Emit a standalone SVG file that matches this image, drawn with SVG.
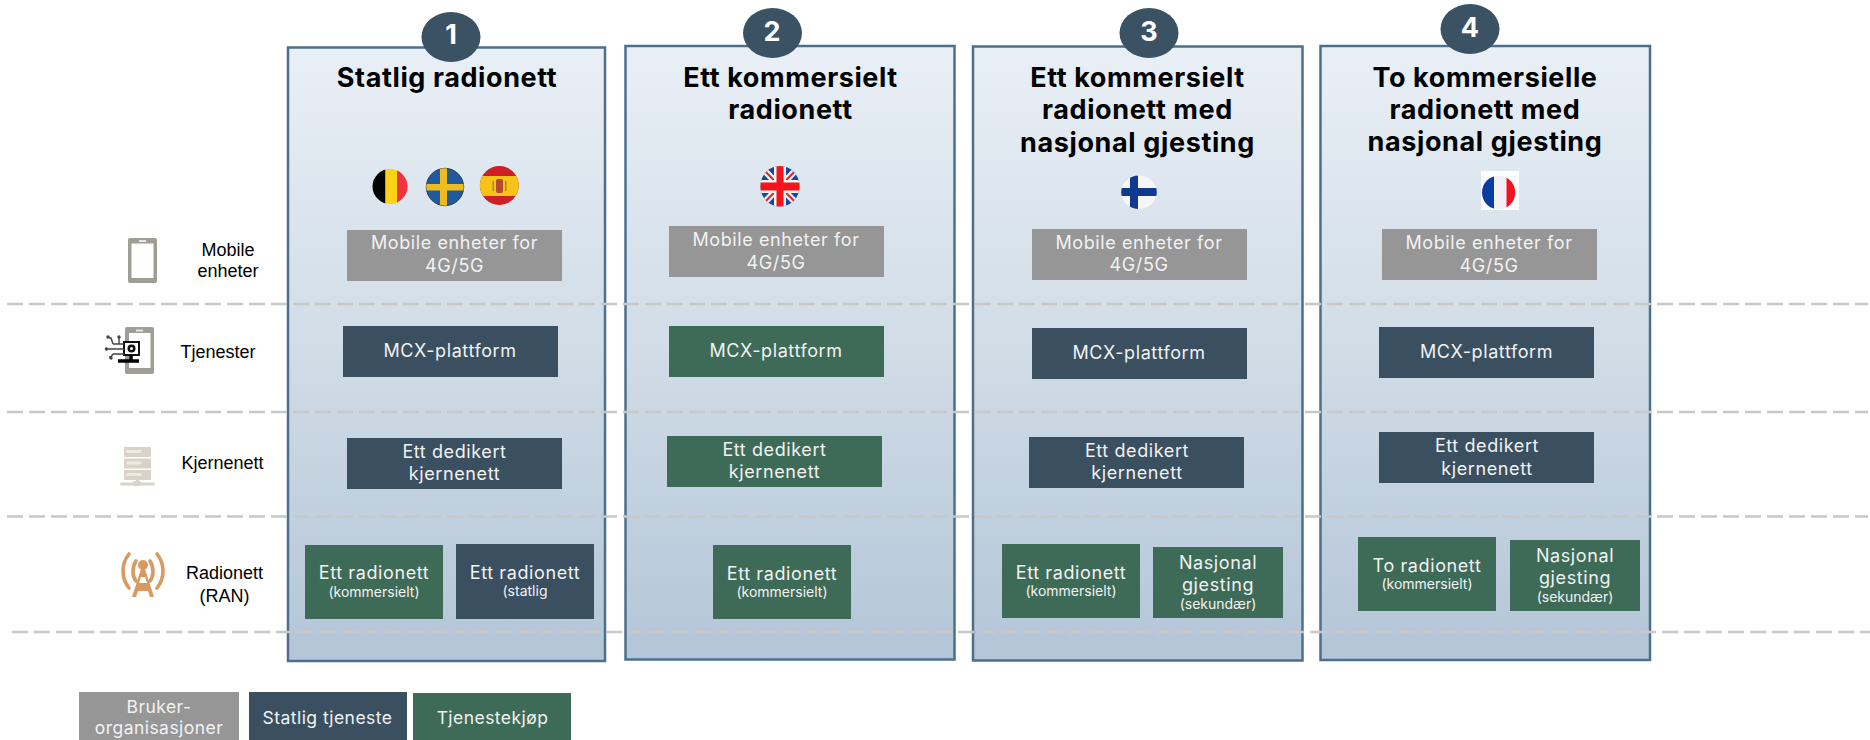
<svg xmlns="http://www.w3.org/2000/svg" width="1870" height="740" viewBox="0 0 1870 740">
<style>
text{font-family:"Inter","Noto Sans",sans-serif;text-anchor:middle}
.col{fill:url(#colGrad);stroke:#4c708c;stroke-width:2.5}
.badge{fill:#3a5263}
.num{font-size:27px;font-weight:700;fill:#fff}
.title{font-size:27px;font-weight:700;fill:#000;letter-spacing:.6px}
.b{font-size:18px;fill:#f2f2f2;letter-spacing:.6px}
.l{font-size:17.5px;fill:#f2f2f2;letter-spacing:.45px}
.s{font-size:14px;letter-spacing:0;fill:#f2f2f2}
.grey{fill:#969696}
.navy{fill:#3a4f60}
.green{fill:#3e6b57}
.side{font-family:"Liberation Sans",Arial,sans-serif;font-size:18px;fill:#000}
.divider{stroke:#c8c8c8;stroke-width:2.5;stroke-dasharray:16 6;fill:none}
</style>
<defs>
<linearGradient id="colGrad" x1="0" y1="0" x2="0" y2="1"><stop offset="0" stop-color="#e9eff6"/><stop offset="0.5" stop-color="#d0dce6"/><stop offset="1" stop-color="#b3c5d8"/></linearGradient>
<clipPath id="cBE"><circle cx="390" cy="186.5" r="17.5"/></clipPath>
<clipPath id="cUK"><ellipse cx="780" cy="186.3" rx="19.6" ry="20.3"/></clipPath>
<clipPath id="cFI"><ellipse cx="1139" cy="192.3" rx="17.8" ry="16.8"/></clipPath>
<clipPath id="cFR"><ellipse cx="1498.6" cy="192.5" rx="16.6" ry="16.8"/></clipPath>
<clipPath id="cSE"><circle cx="445" cy="187" r="18.7"/></clipPath>
<clipPath id="cES"><circle cx="499.3" cy="185.5" r="19.4"/></clipPath>
</defs>

<g id="column-1"><rect class="col" x="288" y="47.5" width="317" height="613.5"/></g>
<g id="column-2"><rect class="col" x="625.5" y="46" width="329" height="613.5"/></g>
<g id="column-3"><rect class="col" x="973" y="46.5" width="329.5" height="614"/></g>
<g id="column-4"><rect class="col" x="1320.5" y="46" width="329.5" height="614"/></g>

<g id="connectors">
<line class="divider" x1="7" y1="304" x2="1868" y2="304"/>
<line class="divider" x1="7" y1="412" x2="1868" y2="412"/>
<line class="divider" x1="7" y1="516.5" x2="1868" y2="516.5"/>
<line class="divider" x1="12" y1="632" x2="1870" y2="632"/>
</g>

<g id="heading-1"><ellipse class="badge" cx="451" cy="37" rx="29.5" ry="25"/><text class="num" x="451" y="44">1</text><text class="title" x="447" y="87">Statlig radionett</text></g>
<g id="heading-2"><ellipse class="badge" cx="772.5" cy="33" rx="29.5" ry="25"/><text class="num" x="772" y="41">2</text><text class="title"><tspan x="790.5" y="87">Ett kommersielt</tspan><tspan x="790.5" y="118.5">radionett</tspan></text></g>
<g id="heading-3"><ellipse class="badge" cx="1149" cy="33" rx="29.5" ry="25"/><text class="num" x="1149" y="41">3</text><text class="title"><tspan x="1137.5" y="87">Ett kommersielt</tspan><tspan x="1137.5" y="119">radionett med</tspan><tspan x="1137.5" y="151.5">nasjonal gjesting</tspan></text></g>
<g id="heading-4"><ellipse class="badge" cx="1470" cy="29" rx="29.5" ry="25"/><text class="num" x="1470" y="37">4</text><text class="title"><tspan x="1485" y="87">To kommersielle</tspan><tspan x="1485" y="119">radionett med</tspan><tspan x="1485" y="151">nasjonal gjesting</tspan></text></g>

<g id="flag-belgium" clip-path="url(#cBE)"><rect x="372" y="169" width="13.5" height="36" fill="#050505"/><rect x="385.5" y="169" width="11.5" height="36" fill="#fcd116"/><rect x="397" y="169" width="12" height="36" fill="#ef3340"/></g>
<g id="flag-sweden"><circle cx="445" cy="187" r="18.7" fill="#1f5a9e" stroke="#2d3f52" stroke-width="1"/><g clip-path="url(#cSE)"><rect x="440" y="168" width="7" height="38" fill="#eebc1f"/><rect x="426" y="184" width="38" height="6.5" fill="#eebc1f"/></g></g>
<g id="flag-spain" clip-path="url(#cES)"><rect x="479" y="165" width="41" height="41" fill="#cf1f26"/><rect x="479" y="176" width="41" height="20" fill="#f7c318"/><rect x="496" y="179" width="7" height="14" rx="2" fill="#b5482f"/><rect x="492.5" y="181" width="1.5" height="10" fill="#a08a3a"/><rect x="505" y="181" width="1.5" height="10" fill="#a08a3a"/></g>
<g id="flag-uk" clip-path="url(#cUK)"><rect x="760" y="165" width="41" height="43" fill="#1446a8"/><path d="M762 168 798 205M798 168 762 205" stroke="#f4f4f4" stroke-width="6.5"/><path d="M762 168 798 205M798 168 762 205" stroke="#e8202a" stroke-width="2"/><rect x="774" y="165" width="12" height="43" fill="#f4f4f4"/><rect x="760" y="180" width="41" height="13" fill="#f4f4f4"/><rect x="776.5" y="165" width="7" height="43" fill="#f5141e"/><rect x="760" y="182.5" width="41" height="8" fill="#f5141e"/></g>
<g id="flag-finland" clip-path="url(#cFI)"><rect x="1120" y="175" width="38" height="35" fill="#f4f6f8"/><rect x="1130" y="175" width="8" height="35" fill="#113a8c"/><rect x="1120" y="188" width="38" height="8" fill="#113a8c"/></g>
<g id="flag-france"><rect x="1481" y="171" width="38" height="39" fill="#fff"/><g clip-path="url(#cFR)"><rect x="1481" y="175" width="13" height="35" fill="#0a3da3"/><rect x="1494" y="175" width="12.5" height="35" fill="#eef0f3"/><rect x="1506.5" y="175" width="10" height="35" fill="#f4101c"/></g></g>

<g id="mobile-1"><rect class="grey" x="347" y="230" width="215" height="51"/><text class="b"><tspan x="454.5" y="249">Mobile enheter for</tspan><tspan x="454.5" y="272">4G/5G</tspan></text></g>
<g id="mobile-2"><rect class="grey" x="669" y="226" width="215" height="51"/><text class="b"><tspan x="776" y="245.5">Mobile enheter for</tspan><tspan x="776" y="268.5">4G/5G</tspan></text></g>
<g id="mobile-3"><rect class="grey" x="1032" y="229" width="215" height="51"/><text class="b"><tspan x="1139" y="249">Mobile enheter for</tspan><tspan x="1139" y="271">4G/5G</tspan></text></g>
<g id="mobile-4"><rect class="grey" x="1382" y="229" width="215" height="51"/><text class="b"><tspan x="1489" y="249">Mobile enheter for</tspan><tspan x="1489" y="271.5">4G/5G</tspan></text></g>

<g id="mcx-1"><rect class="navy" x="343" y="326" width="215" height="51"/><text class="b" x="450" y="357">MCX-plattform</text></g>
<g id="mcx-2"><rect class="green" x="669" y="326" width="215" height="51"/><text class="b" x="776" y="357">MCX-plattform</text></g>
<g id="mcx-3"><rect class="navy" x="1032" y="328" width="215" height="51"/><text class="b" x="1139" y="359">MCX-plattform</text></g>
<g id="mcx-4"><rect class="navy" x="1379" y="327" width="215" height="51"/><text class="b" x="1486.5" y="358">MCX-plattform</text></g>

<g id="core-1"><rect class="navy" x="347" y="438" width="215" height="51"/><text class="b"><tspan x="454.5" y="458">Ett dedikert</tspan><tspan x="454.5" y="480">kjernenett</tspan></text></g>
<g id="core-2"><rect class="green" x="667" y="436" width="215" height="51"/><text class="b"><tspan x="774.5" y="456">Ett dedikert</tspan><tspan x="774.5" y="478">kjernenett</tspan></text></g>
<g id="core-3"><rect class="navy" x="1029" y="437" width="215" height="51"/><text class="b"><tspan x="1137" y="457">Ett dedikert</tspan><tspan x="1137" y="479">kjernenett</tspan></text></g>
<g id="core-4"><rect class="navy" x="1379" y="432" width="215" height="51"/><text class="b"><tspan x="1487" y="452">Ett dedikert</tspan><tspan x="1487" y="474.5">kjernenett</tspan></text></g>

<g id="ran-1a"><rect class="green" x="305" y="545" width="138" height="74"/><text class="b"><tspan x="374" y="579">Ett radionett</tspan><tspan class="s" x="374" y="597">(kommersielt)</tspan></text></g>
<g id="ran-1b"><rect class="navy" x="456" y="544" width="138" height="75"/><text class="b"><tspan x="525" y="579">Ett radionett</tspan><tspan class="s" x="525" y="596">(statlig</tspan></text></g>
<g id="ran-2"><rect class="green" x="713" y="545" width="138" height="74"/><text class="b"><tspan x="782" y="580">Ett radionett</tspan><tspan class="s" x="782" y="597">(kommersielt)</tspan></text></g>
<g id="ran-3a"><rect class="green" x="1002" y="544" width="138" height="74"/><text class="b"><tspan x="1071" y="579">Ett radionett</tspan><tspan class="s" x="1071" y="596">(kommersielt)</tspan></text></g>
<g id="ran-3b"><rect class="green" x="1153" y="547" width="130" height="71"/><text class="b"><tspan x="1218" y="569">Nasjonal</tspan><tspan x="1218" y="591">gjesting</tspan><tspan class="s" x="1218" y="609">(sekundær)</tspan></text></g>
<g id="ran-4a"><rect class="green" x="1358" y="537" width="138" height="74"/><text class="b"><tspan x="1427" y="572">To radionett</tspan><tspan class="s" x="1427" y="589">(kommersielt)</tspan></text></g>
<g id="ran-4b"><rect class="green" x="1510" y="540" width="130" height="71"/><text class="b"><tspan x="1575" y="562">Nasjonal</tspan><tspan x="1575" y="584">gjesting</tspan><tspan class="s" x="1575" y="602">(sekundær)</tspan></text></g>

<g id="legend-users"><rect class="grey" x="79" y="692" width="160" height="48"/><text class="l"><tspan x="159" y="712.5">Bruker-</tspan><tspan x="159" y="734">organisasjoner</tspan></text></g>
<g id="legend-state"><rect class="navy" x="249" y="692" width="158" height="48"/><text class="l" x="327.5" y="724">Statlig tjeneste</text></g>
<g id="legend-purchase"><rect class="green" x="413" y="693" width="158" height="47"/><text class="l" x="492.5" y="724">Tjenestekjøp</text></g>

<g id="row-mobile"><rect x="128" y="238" width="29" height="45" rx="2" fill="#a09c96"/><rect x="131.5" y="243.5" width="22" height="34.5" fill="#fff"/><rect x="139" y="240" width="7" height="2" fill="#e6e4e0"/><text class="side"><tspan x="228" y="256">Mobile</tspan><tspan x="228" y="277">enheter</tspan></text></g>
<g id="row-services"><rect x="125" y="327" width="29" height="47" rx="2" fill="#a09c96"/><rect x="129" y="333" width="21.5" height="35" fill="#fff"/><rect x="136" y="329.5" width="7" height="2" fill="#e6e4e0"/><rect x="124" y="342" width="15" height="13" fill="#fff" stroke="#111" stroke-width="2"/><circle cx="131.5" cy="348.5" r="4" fill="#111"/><circle cx="131.5" cy="348.5" r="1.5" fill="#fff"/><path d="M131 355v5M118 361h21" stroke="#000" stroke-width="3.5" fill="none"/><path d="M107 349h17M113 344h11M113 354h11M113 344l-2-6h-2M119 344v-6M113 354l-2 3h-2" stroke="#444" stroke-width="1.4" fill="none"/><circle cx="108" cy="337" r="1.7" fill="#444"/><circle cx="119" cy="337" r="1.7" fill="#444"/><circle cx="106.5" cy="349" r="1.7" fill="#444"/><circle cx="111" cy="358" r="1.7" fill="#444"/><text class="side" x="218" y="358">Tjenester</text></g>
<g id="row-core"><g fill="#d9d2c8"><rect x="124" y="447" width="27" height="10" rx="1"/><rect x="124" y="458.5" width="27" height="10" rx="1"/><rect x="124" y="470" width="27" height="10" rx="1"/><rect x="136" y="480" width="3" height="4"/><rect x="120" y="482.5" width="35" height="3" rx="1.5"/><rect x="133" y="481" width="8" height="5" rx="1"/></g><g fill="#efeae2"><rect x="126.5" y="450" width="15" height="3"/><rect x="126.5" y="461.5" width="15" height="3"/><rect x="126.5" y="473" width="15" height="3"/></g><text class="side" x="222.5" y="469">Kjernenett</text></g>
<g id="row-ran"><g fill="none" stroke="#d99a62" stroke-width="3.6" stroke-linecap="round"><path d="M129 554c-8 10-8 24 0 34"/><path d="M157 554c8 10 8 24 0 34"/><path d="M136 561c-4 6-4 15 0 20"/><path d="M150 561c4 6 4 15 0 20"/></g><circle cx="143" cy="565" r="5" fill="#d99a62"/><path d="M141 569h4l9 28h-4l-2-6h-10l-2 6h-4ZM141 577l-2 6h8l-2-6Z" fill="#d99a62" fill-rule="evenodd"/><text class="side"><tspan x="224.5" y="579">Radionett</tspan><tspan x="224.5" y="602">(RAN)</tspan></text></g>
</svg>
